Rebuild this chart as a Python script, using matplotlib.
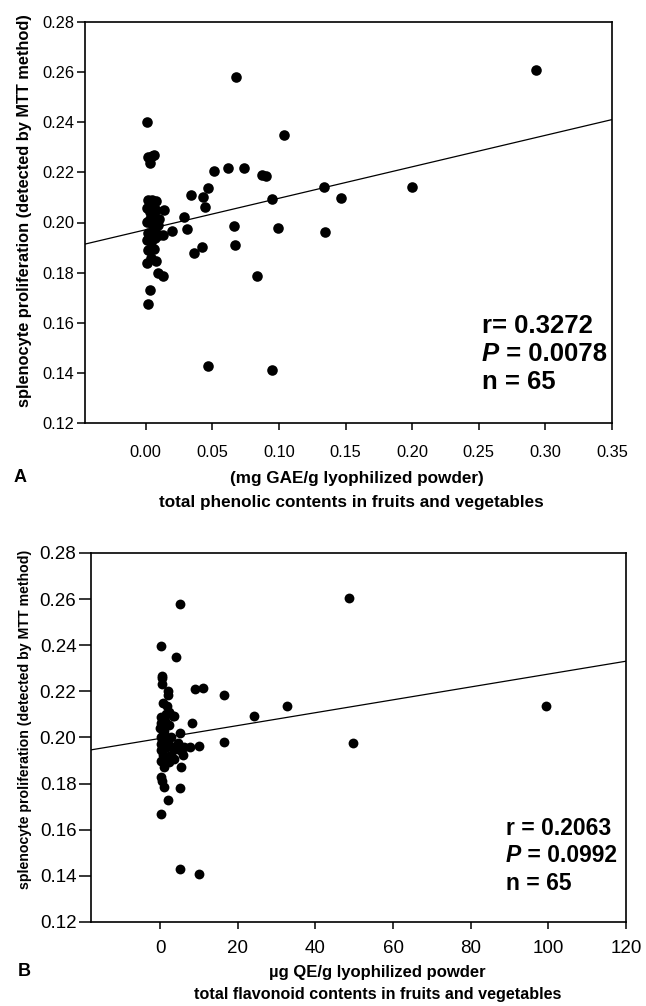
import matplotlib
matplotlib.use("Agg")
import matplotlib.pyplot as plt
import numpy as np

plt.rcParams['font.family'] = ['Liberation Sans', 'DejaVu Sans']

# ---------------- data: panel A (total phenolic) ----------------
phen_x = [0.068, 0.293, 0.001, 0.1035, 0.002, 0.006, 0.003, 0.005, 0.0515, 0.062,
          0.074, 0.087, 0.090, 0.0338, 0.047, 0.043, 0.0445, 0.095, 0.134, 0.1465,
          0.200, 0.029, 0.014, 0.005, 0.008, 0.001, 0.004, 0.008, 0.001, 0.004,
          0.009, 0.0195, 0.0127, 0.007, 0.031, 0.001, 0.004, 0.007, 0.002, 0.006,
          0.001, 0.008, 0.0095, 0.013, 0.003, 0.002, 0.0365, 0.042, 0.0665, 0.067,
          0.0837, 0.0995, 0.1345, 0.047, 0.0945, 0.003, 0.010, 0.002, 0.005, 0.006,
          0.003, 0.002, 0.010, 0.004, 0.007]
phen_y = [0.258, 0.261, 0.240, 0.235, 0.226, 0.227, 0.2237, 0.2265, 0.2206, 0.2217,
          0.2219, 0.219, 0.2187, 0.211, 0.2139, 0.2103, 0.2063, 0.2094, 0.2143, 0.2097,
          0.2143, 0.2023, 0.205, 0.209, 0.2085, 0.2057, 0.207, 0.205, 0.2003, 0.1997,
          0.199, 0.1967, 0.195, 0.1963, 0.1973, 0.193, 0.1923, 0.1937, 0.189, 0.1893,
          0.1837, 0.1847, 0.1799, 0.1786, 0.173, 0.1673, 0.1879, 0.1901, 0.1986, 0.191,
          0.1786, 0.1979, 0.1961, 0.1427, 0.141, 0.2015, 0.2015, 0.196, 0.202, 0.198,
          0.204, 0.209, 0.195, 0.186, 0.2005]
phen_fit = (0.1971, 0.1256)          # intercept, slope
phen_stats = ["r= 0.3272", "0.0078", "n = 65"]

# ---------------- data: panel B (total flavonoid) ----------------
flav_x = [5.0, 48.6, 0.3, 4.1, 0.4, 0.5, 0.6, 2.1, 2.0, 8.9,
          11.0, 16.4, 24.3, 32.8, 99.4, 49.7, 1.8, 1.5, 3.2, 0.3,
          2.4, 0.7, 8.3, 5.0, 16.4, 7.6, 10.1, 4.5, 5.0, 1.5,
          3.7, 2.4, 5.4, 0.3, 0.9, 5.0, 2.1, 0.3, 5.0, 10.1,
          0.3, 0.3, 0.3, 0.6, 0.2, 2.4, 3.7, 1.0, 0.2, 1.2,
          2.0, 3.0, 6.2, 0.8, 2.8, 1.0, 0.5, 0.1, 1.5, 3.8,
          1.2, 0.8, 2.7, 5.8, 0.4]
flav_y = [0.2581, 0.2607, 0.2396, 0.2347, 0.2266, 0.2234, 0.2260, 0.2202, 0.2184, 0.2209,
          0.2213, 0.2184, 0.2094, 0.2137, 0.2137, 0.1977, 0.2136, 0.2104, 0.2092, 0.2061,
          0.2053, 0.2010, 0.2061, 0.2020, 0.1981, 0.1959, 0.1964, 0.1974, 0.1945, 0.1916,
          0.1906, 0.1894, 0.1872, 0.1829, 0.1786, 0.1783, 0.1731, 0.1670, 0.1429, 0.1410,
          0.1898, 0.1945, 0.1972, 0.1984, 0.2090, 0.2110, 0.2092, 0.2030, 0.2000, 0.1955,
          0.1980, 0.1960, 0.1960, 0.1925, 0.1925, 0.1870, 0.1810, 0.2040, 0.2000, 0.1950,
          0.2070, 0.2150, 0.2000, 0.1925, 0.1900]
flav_fit = (0.1996, 0.000279)
flav_stats = ["r = 0.2063", "0.0992", "n = 65"]

y_ticks = [0.12, 0.14, 0.16, 0.18, 0.20, 0.22, 0.24, 0.26, 0.28]
phen_xticks = [0.00, 0.05, 0.10, 0.15, 0.20, 0.25, 0.30, 0.35]
flav_xticks = [0, 20, 40, 60, 80, 100, 120]

ylabel = "splenocyte proliferation (detected by MTT method)"

W, H = 646, 1006
fig = plt.figure(figsize=(W / 100, H / 100), dpi=100)


def fx(px):
    return px / W


def fy(py):
    return 1 - py / H


def make_axes(l, t, r, b):
    return fig.add_axes([fx(l), fy(b), fx(r) - fx(l), fy(t) - fy(b)])


def style(ax, tick_fs, ylen, xpad):
    for s in ax.spines.values():
        s.set_linewidth(1.2)
    ax.tick_params(axis='y', length=ylen, width=1.1, labelsize=tick_fs, pad=1.5)
    ax.tick_params(axis='x', length=5, width=1.1, labelsize=tick_fs, pad=xpad)


def stats(ax, lines, x0, ys, fs):
    # x0, ys in figure pixels
    ax.figure.text(fx(x0), fy(ys[0]), lines[0], fontsize=fs, fontweight='bold',
                   ha='left', va='baseline')
    p = ax.figure.text(fx(x0), fy(ys[1]), "P", fontsize=fs, fontweight='bold',
                       fontstyle='italic', ha='left', va='baseline')
    ax.annotate(" = " + lines[1], xy=(1, 0), xycoords=p, fontsize=fs,
                fontweight='bold', ha='left', va='bottom', annotation_clip=False)
    ax.figure.text(fx(x0), fy(ys[2]), lines[2], fontsize=fs, fontweight='bold',
                   ha='left', va='baseline')


# ---------------- Panel A ----------------
axA = make_axes(85, 22, 612, 423)
axA.scatter(phen_x, phen_y, s=58, color='black', zorder=3, linewidths=0)
xl = np.array([-0.0455, 0.35])
axA.plot(xl, phen_fit[0] + phen_fit[1] * xl, color='black', lw=0.9)
axA.set_xlim(-0.0455, 0.35)
axA.set_ylim(0.12, 0.28)
axA.set_yticks(y_ticks)
axA.set_yticklabels([f"{v:.2f}" for v in y_ticks])
axA.set_xticks(phen_xticks)
axA.set_xticklabels([f"{v:.2f}" for v in phen_xticks])
style(axA, 11.8, 6, 11)
stats(axA, phen_stats, 482, [333, 361, 389], 18.5)

fig.text(fx(25), fy(211), ylabel, rotation=90, fontsize=11.8, fontweight='bold',
         ha='center', va='center')
fig.text(fx(357), fy(478), "(mg GAE/g lyophilized powder)", fontsize=12.3,
         fontweight='bold', ha='center', va='center')
fig.text(fx(351), fy(503), "total phenolic contents in fruits and vegetables",
         fontsize=12.3, fontweight='bold', ha='center', va='center')
fig.text(fx(20.5), fy(478), "A", fontsize=13, fontweight='bold', ha='center', va='center')

# ---------------- Panel B ----------------
axB = make_axes(91, 553, 626, 922)
axB.scatter(flav_x, flav_y, s=50, color='black', zorder=3, linewidths=0)
xl = np.array([-17.8, 120])
axB.plot(xl, flav_fit[0] + flav_fit[1] * xl, color='black', lw=0.9)
axB.set_xlim(-17.8, 120)
axB.set_ylim(0.12, 0.28)
axB.set_yticks(y_ticks)
axB.set_yticklabels([f"{v:.2f}" for v in y_ticks])
axB.set_xticks(flav_xticks)
axB.set_xticklabels([str(v) for v in flav_xticks])
style(axB, 13.5, 9, 8)
stats(axB, flav_stats, 506, [835, 862, 890], 16.5)

fig.text(fx(25), fy(719), ylabel, rotation=90, fontsize=10.2, fontweight='bold',
         ha='center', va='center')
fig.text(fx(377), fy(972), "\u00b5g QE/g lyophilized powder", fontsize=12,
         fontweight='bold', ha='center', va='center')
fig.text(fx(378), fy(994), "total flavonoid contents in fruits and vegetables",
         fontsize=11.6, fontweight='bold', ha='center', va='center')
fig.text(fx(24.5), fy(972), "B", fontsize=13, fontweight='bold', ha='center', va='center')

fig.savefig("out.png", dpi=100)
